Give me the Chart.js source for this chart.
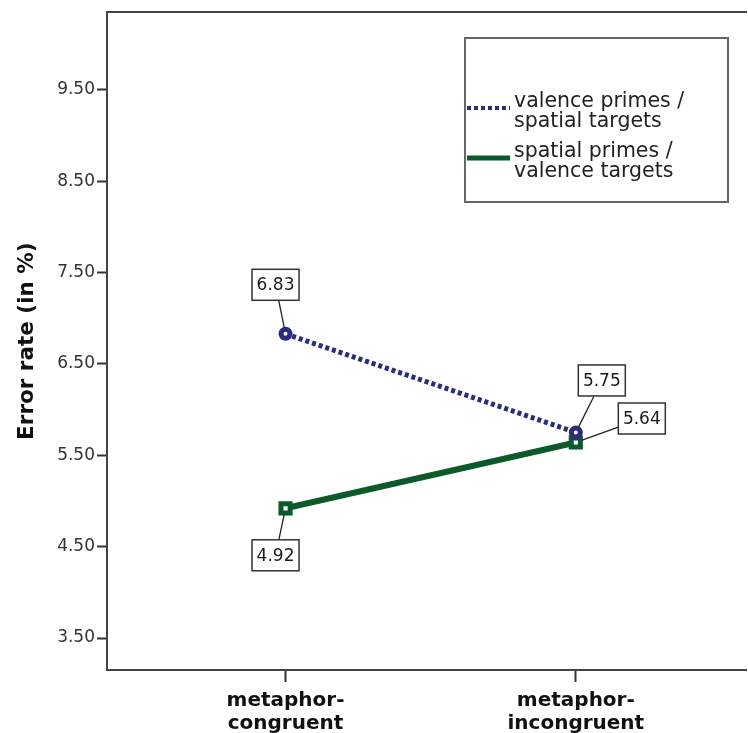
<!DOCTYPE html>
<html>
<head>
<meta charset="utf-8">
<script src="https://cdn.jsdelivr.net/npm/chart.js@4.4.1/dist/chart.umd.min.js"></script>
<style>
  html, body { margin: 0; padding: 0; background: #fff; overflow: hidden; }
  #wrap { width: 748px; height: 733px; overflow: hidden; }
</style>
</head>
<body>
<div id="wrap"><canvas id="c" width="758" height="733"></canvas></div>
<script>
// ---- data ----
const categories = ['metaphor-congruent', 'metaphor-incongruent'];
const seriesNames = ['valence primes / spatial targets', 'spatial primes / valence targets'];
const valencePrimes = [6.83, 5.75];
const spatialPrimes = [4.92, 5.64];
const yTickValues = [3.5, 4.5, 5.5, 6.5, 7.5, 8.5, 9.5];

const NAVY = '#2b2b80';
const GREEN = '#0b5a2a';
const FONT = "'DejaVu Sans', sans-serif";

function toPoints(arr) { return arr.map((v, i) => ({ x: i, y: v })); }
function splitLabel(s) { return s.replace('/ ', '/\n').split('\n'); }

// label-box offsets relative to each point (dataset -> point)
const labelOffsets = [
  [[-10, -49], [26, -52]],
  [[-10, 47], [66, -24]]
];

const valueLabels = {
  id: 'valueLabels',
  afterDatasetsDraw(chart) {
    const ctx = chart.ctx;
    ctx.save();
    ctx.font = '17px ' + FONT;
    ctx.textAlign = 'center';
    ctx.textBaseline = 'middle';
    chart.data.datasets.forEach((ds, di) => {
      const meta = chart.getDatasetMeta(di);
      meta.data.forEach((pt, pi) => {
        const off = labelOffsets[di][pi];
        const cx = pt.x + off[0], cy = pt.y + off[1];
        const w = 47, h = 31;
        const dx = pt.x - cx, dy = pt.y - cy;
        const t = Math.min(Math.abs((w / 2) / (dx || 1e-6)), Math.abs((h / 2) / (dy || 1e-6)));
        const sx = cx + dx * t, sy = cy + dy * t;
        const len = Math.hypot(pt.x - sx, pt.y - sy);
        const ex = pt.x - (pt.x - sx) / len * 6, ey = pt.y - (pt.y - sy) / len * 6;
        ctx.strokeStyle = '#222';
        ctx.lineWidth = 1.3;
        ctx.beginPath();
        ctx.moveTo(sx, sy);
        ctx.lineTo(ex, ey);
        ctx.stroke();
        ctx.fillStyle = '#fff';
        ctx.fillRect(cx - w / 2, cy - h / 2, w, h);
        ctx.strokeStyle = '#333';
        ctx.lineWidth = 1.5;
        ctx.strokeRect(cx - w / 2, cy - h / 2, w, h);
        ctx.fillStyle = '#1a1a1a';
        ctx.fillText(ds.data[pi].y.toFixed(2), cx, cy + 1);
      });
    });
    ctx.restore();
  }
};

const customLegend = {
  id: 'customLegend',
  afterDraw(chart) {
    const ctx = chart.ctx;
    ctx.save();
    ctx.strokeStyle = '#666';
    ctx.lineWidth = 2;
    ctx.strokeRect(465, 38, 263, 164);
    const rows = [108, 158];
    chart.data.datasets.forEach((ds, i) => {
      const y = rows[i];
      ctx.strokeStyle = ds.borderColor;
      ctx.lineWidth = i === 0 ? 4 : 5;
      ctx.setLineDash(ds.borderDash || []);
      ctx.beginPath();
      ctx.moveTo(467, y);
      ctx.lineTo(510, y);
      ctx.stroke();
      ctx.setLineDash([]);
      ctx.fillStyle = '#222';
      ctx.font = '20.5px ' + FONT;
      ctx.textAlign = 'left';
      ctx.textBaseline = 'middle';
      const lines = splitLabel(ds.label);
      lines.forEach((ln, k) => ctx.fillText(ln, 514, y - 6 + k * 20));
    });
    ctx.restore();
  }
};

new Chart(document.getElementById('c'), {
  type: 'line',
  data: {
    datasets: [
      {
        label: seriesNames[0],
        data: toPoints(valencePrimes),
        borderColor: NAVY,
        borderWidth: 5,
        borderDash: [4, 3],
        borderCapStyle: 'butt',
        pointStyle: 'circle',
        pointRadius: 4.5,
        pointBorderWidth: 5,
        pointBorderColor: NAVY,
        pointBackgroundColor: '#fff',
        xAxisID: 'x', yAxisID: 'y'
      },
      {
        label: seriesNames[1],
        data: toPoints(spatialPrimes),
        borderColor: GREEN,
        borderWidth: 6,
        borderCapStyle: 'butt',
        pointStyle: 'rect',
        pointRadius: 6.5,
        pointBorderWidth: 5,
        pointBorderColor: GREEN,
        pointBackgroundColor: '#fff',
        xAxisID: 'x', yAxisID: 'y'
      }
    ]
  },
  options: {
    responsive: false,
    animation: false,
    devicePixelRatio: 1,
    layout: { padding: 0 },
    plugins: { legend: { display: false }, tooltip: { enabled: false } },
    scales: {
      x: {
        type: 'linear',
        position: 'bottom',
        min: -0.615,
        max: 1.588,
        afterBuildTicks(scale) { scale.ticks = categories.map((c, i) => ({ value: i })); },
        afterFit(scale) { scale.height = 63; },
        ticks: {
          autoSkip: false,
          maxRotation: 0,
          padding: 7,
          color: '#111',
          font: { family: FONT, size: 20, weight: 'bold', lineHeight: 1.15 },
          callback(v) { return categories[v] ? categories[v].replace('-', '-\n').split('\n') : ''; }
        },
        grid: { display: true, drawOnChartArea: false, drawTicks: true, tickLength: 12, tickWidth: 2, color: '#333' },
        border: { display: true, color: '#444', width: 2 }
      },
      xTop: {
        type: 'linear',
        position: 'top',
        min: -0.615,
        max: 1.588,
        afterFit(scale) { scale.height = 10; },
        ticks: { display: false },
        grid: { display: false, drawTicks: false },
        border: { display: true, color: '#444', width: 2 }
      },
      y: {
        type: 'linear',
        position: 'left',
        min: 3.15,
        max: 10.35,
        afterBuildTicks(scale) { scale.ticks = yTickValues.map(v => ({ value: v })); },
        afterFit(scale) { scale.width = 107; },
        ticks: {
          padding: 2,
          color: '#333',
          font: { family: FONT, size: 17 },
          callback(v) { return Number(v).toFixed(2); }
        },
        grid: { display: true, drawOnChartArea: false, drawTicks: true, tickLength: 10, tickWidth: 2, color: '#333' },
        border: { display: true, color: '#444', width: 2 },
        title: {
          display: true,
          text: 'Error rate (in %)',
          color: '#111',
          font: { family: FONT, size: 21.5, weight: 'bold' },
          padding: { top: 15, bottom: 0 }
        }
      }
    }
  },
  plugins: [valueLabels, customLegend]
});
</script>
</body>
</html>
